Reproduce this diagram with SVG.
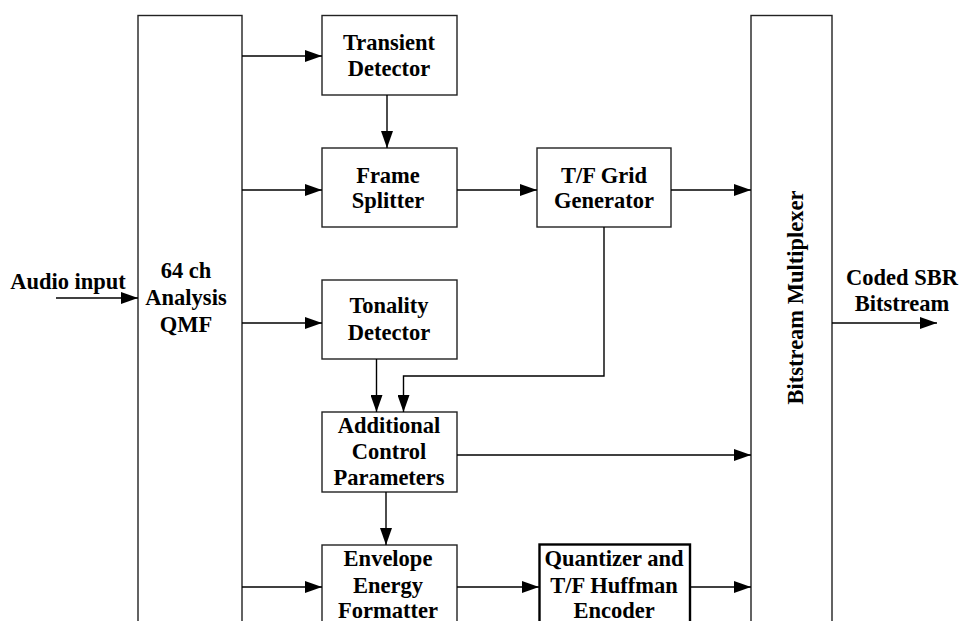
<svg xmlns="http://www.w3.org/2000/svg" width="959" height="621" viewBox="0 0 959 621">
<style>
.box{fill:#fff;stroke:#222;stroke-width:1.4}
.thick{fill:#fff;stroke:#000;stroke-width:2.4}
.t{font-family:"Liberation Serif","Times New Roman",serif;font-weight:bold;font-size:22.5px;fill:#000;text-anchor:middle}
.c{fill:none;stroke:#000;stroke-width:1.4}
</style>
<defs>
<marker id="ah" markerUnits="userSpaceOnUse" markerWidth="18" markerHeight="12" refX="17" refY="6" orient="auto">
<path d="M0,0 L17,6 L0,12 z" fill="#000"/>
</marker>
</defs>
<rect width="959" height="621" fill="#fff"/>
<g id="qmf"><rect class="box" x="138" y="15.5" width="104" height="620"/>
<text class="t" x="186" y="278">64 ch</text><text class="t" x="186" y="305">Analysis</text><text class="t" x="186" y="332">QMF</text></g>
<g id="transient"><rect class="box" x="322" y="15.5" width="135" height="79.5"/>
<text class="t" x="389" y="50">Transient</text><text class="t" x="389" y="76">Detector</text></g>
<g id="frame"><rect class="box" x="322" y="148" width="135" height="79"/>
<text class="t" x="388" y="183">Frame</text><text class="t" x="388" y="208">Splitter</text></g>
<g id="tfgrid"><rect class="box" x="537" y="148" width="134" height="79"/>
<text class="t" x="604" y="183">T/F Grid</text><text class="t" x="604" y="208">Generator</text></g>
<g id="tonality"><rect class="box" x="322" y="280" width="135" height="79"/>
<text class="t" x="389" y="313">Tonality</text><text class="t" x="389" y="340">Detector</text></g>
<g id="additional"><rect class="box" x="322" y="412" width="135" height="80"/>
<text class="t" x="389" y="433">Additional</text><text class="t" x="389" y="459">Control</text><text class="t" x="389" y="485">Parameters</text></g>
<g id="envelope"><rect class="box" x="322" y="545" width="135" height="90"/>
<text class="t" x="388" y="566">Envelope</text><text class="t" x="388" y="593">Energy</text><text class="t" x="388" y="618">Formatter</text></g>
<g id="quantizer"><rect class="thick" x="539.5" y="544.5" width="150.5" height="90"/>
<text class="t" x="614" y="566">Quantizer and</text><text class="t" x="614" y="593">T/F Huffman</text><text class="t" x="614" y="618">Encoder</text></g>
<g id="mux"><rect class="box" x="751" y="15.5" width="81" height="620"/>
<text class="t" transform="translate(803,297.5) rotate(-90)" x="0" y="0">Bitstream Multiplexer</text></g>
<g id="labels">
<text class="t" x="68" y="289">Audio input</text>
<text class="t" x="902" y="285">Coded SBR</text>
<text class="t" x="902" y="311">Bitstream</text>
</g>
<g id="connectors">
<line class="c" x1="56" y1="298" x2="138" y2="298" marker-end="url(#ah)"/>
<line class="c" x1="242" y1="56" x2="322" y2="56" marker-end="url(#ah)"/>
<line class="c" x1="242" y1="190" x2="322" y2="190" marker-end="url(#ah)"/>
<line class="c" x1="242" y1="323" x2="322" y2="323" marker-end="url(#ah)"/>
<line class="c" x1="242" y1="587" x2="322" y2="587" marker-end="url(#ah)"/>
<line class="c" x1="387" y1="95" x2="387" y2="148" marker-end="url(#ah)"/>
<line class="c" x1="457" y1="190" x2="537" y2="190" marker-end="url(#ah)"/>
<line class="c" x1="671" y1="190" x2="751" y2="190" marker-end="url(#ah)"/>
<line class="c" x1="376.5" y1="359" x2="376.5" y2="412" marker-end="url(#ah)"/>
<polyline class="c" points="604,227 604,376 403.5,376 403.5,412" marker-end="url(#ah)"/>
<line class="c" x1="457" y1="455" x2="751" y2="455" marker-end="url(#ah)"/>
<line class="c" x1="386" y1="492" x2="386" y2="545" marker-end="url(#ah)"/>
<line class="c" x1="457" y1="587" x2="539" y2="587" marker-end="url(#ah)"/>
<line class="c" x1="690" y1="587" x2="751" y2="587" marker-end="url(#ah)"/>
<line class="c" x1="832" y1="323" x2="937" y2="323" marker-end="url(#ah)"/>
</g>
</svg>
